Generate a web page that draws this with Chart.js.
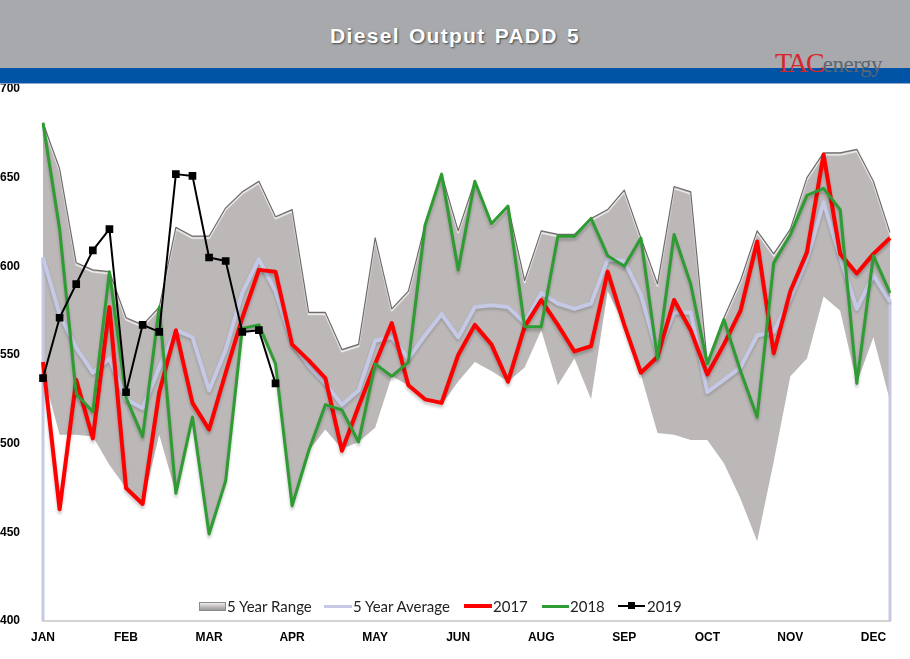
<!DOCTYPE html>
<html lang="en">
<head>
<meta charset="UTF-8" />
<title>Diesel Output PADD 5</title>
<script src="https://cdn.jsdelivr.net/npm/chart.js@4"></script>
<style>
  body{margin:0;width:910px;height:659px;position:relative;overflow:hidden;background:#fff;font-family:Arial,"Liberation Sans",sans-serif;}
  #head{position:absolute;left:0;top:0;width:910px;height:68px;background:#a7a9ac;}
  #blue{position:absolute;left:0;top:68px;width:910px;height:15px;background:#0054a6;border-bottom:1px solid #8ea6c8;}
  #title{position:absolute;left:0;top:24px;width:910px;text-align:center;color:#fff;font:bold 21px Arial,"Liberation Sans",sans-serif;letter-spacing:1.3px;word-spacing:2px;text-shadow:1px 1px 2px rgba(0,0,0,.6);}
  #logo{position:absolute;left:775px;top:49px;white-space:nowrap;font-family:"Liberation Serif","DejaVu Serif",serif;line-height:1;}
  #logo .tac{color:#d8262c;font-size:28px;letter-spacing:-2px;}
  #logo .en{color:#5d6670;font-size:23px;letter-spacing:-0.5px;}
  canvas{position:absolute;left:0;top:0;}
  .lg{position:absolute;top:597px;font:15px Lato,"Open Sans",sans-serif;color:#222;line-height:18px;white-space:nowrap;}
  .ic{position:absolute;}
</style>
</head>
<body>
  <canvas id="c" width="910" height="659"></canvas>
  <div id="head"></div>
  <div id="blue"></div>
  <div id="title">Diesel Output PADD 5</div>
  <div id="logo"><span class="tac">TAC</span><span class="en">energy</span></div>

  <!-- legend -->
  <div class="ic" style="left:199px;top:602px;width:25px;height:7px;background:linear-gradient(#eee,#b9b6b5 60%,#9c9999);border:1px solid #8d8a8a;"></div>
  <div class="lg" style="left:227px;">5 Year Range</div>
  <div class="ic" style="left:324px;top:605px;width:28px;height:3px;background:#c5c9e6;"></div>
  <div class="lg" style="left:353px;">5 Year Average</div>
  <div class="ic" style="left:464px;top:604px;width:28px;height:4px;background:#ff0000;"></div>
  <div class="lg" style="left:493px;">2017</div>
  <div class="ic" style="left:542px;top:605px;width:27px;height:3px;background:#2e9b33;"></div>
  <div class="lg" style="left:570px;">2018</div>
  <div class="ic" style="left:618px;top:605px;width:27px;height:2px;background:#000;"></div>
  <div class="ic" style="left:628px;top:602px;width:7px;height:7px;background:#000;"></div>
  <div class="lg" style="left:647px;">2019</div>

<script>
  // weekly data, 52 weeks; month label every 5th week (as in the original sheet)
  const months = ['JAN','FEB','MAR','APR','MAY','JUN','AUG','SEP','OCT','NOV','DEC'];
  const weekLabels = Array.from({length:52}, (_, i) => i % 5 === 0 ? months[i/5] : '');

  const rangeHigh = [681,655,602,598,597,571,567,577,622,617,617,633,642,648,628,632,574,574,553,556,
                     616,576,586,623,652,620,648,624,634,592,620,618,618,627,632,643,616,590,645,642,
                     545,571,592,620,607,621,650,664,664,666,648,619];
  const rangeLow  = [540,505,505,504,488,475,466,505,472,515,449,479,563,565,545,465,496,508,497,501,
                     509,538,533,524,522,535,546,541,535,543,564,533,548,525,586,567,539,506,505,502,
                     502,489,469,445,490,538,548,583,575,534,560,524];
  const avg5yr    = [605,573,554,540,548,525,520,543,564,560,530,553,585,604,586,557,544,534,522,530,
                     558,560,548,561,573,560,577,578,577,568,585,579,576,579,604,603,584,551,574,574,
                     529,536,543,561,563,582,604,636,605,576,595,580];
  const y2017     = [546,463,536,503,577,475,466,529,564,523,508,540,571,598,597,556,547,537,496,521,
                     545,568,533,525,523,550,567,556,535,566,581,567,552,555,597,567,540,549,581,564,
                     539,556,575,614,551,586,608,663,607,596,607,616];
  const y2018     = [681,621,528,518,597,526,504,577,472,515,449,479,565,567,545,465,496,522,519,501,
                     545,538,546,623,652,598,648,624,634,566,566,617,617,627,606,600,616,548,618,590,
                     545,570,541,515,602,618,640,644,632,534,606,585];
  const y2019     = [537,571,590,609,621,529,567,563,652,651,605,603,563,564,534];

  const Y_MIN = 400, Y_MAX = 700;

  // soft shadows / bevel on lines, and the vertical end strokes of the average area
  const lookPlugin = {
    id: 'look',
    beforeDatasetDraw(chart, args) {
      const ds = chart.data.datasets[args.index];
      const ctx = chart.ctx;
      ctx.save();
      if (ds.edges) {
        const x = chart.scales.x, y = chart.scales.y;
        const last = ds.data.length - 1;
        ctx.strokeStyle = ds.borderColor;
        ctx.lineWidth = 3;
        ctx.beginPath();
        ctx.moveTo(x.getPixelForValue(0), y.getPixelForValue(ds.data[0]));
        ctx.lineTo(x.getPixelForValue(0), y.getPixelForValue(Y_MIN));
        ctx.moveTo(x.getPixelForValue(last), y.getPixelForValue(ds.data[last]));
        ctx.lineTo(x.getPixelForValue(last), y.getPixelForValue(Y_MIN));
        ctx.stroke();
      }
      if (ds.shadow) {
        ctx.shadowColor = ds.shadow;
        ctx.shadowBlur = ds.shadowBlur || 3;
        ctx.shadowOffsetX = 0;
        ctx.shadowOffsetY = ds.shadowY || 3;
      }
    },
    afterDatasetDraw(chart) { chart.ctx.restore(); }
  };

  new Chart(document.getElementById('c'), {
    type: 'line',
    data: {
      labels: weekLabels,
      datasets: [
        {label:'5 Year Range', data:rangeHigh, fill:'+1', backgroundColor:'#bcb8b7',
         borderColor:'#6f6b6b', borderWidth:1.2, pointRadius:0, order:10,
         shadow:'rgba(255,255,255,0.95)', shadowY:2, shadowBlur:1},
        {label:'', data:rangeLow, fill:false, borderWidth:0, borderColor:'rgba(0,0,0,0)', pointRadius:0, order:11},
        {label:'5 Year Average', data:avg5yr, fill:false, borderColor:'#c5c9e6', borderWidth:4,
         pointRadius:0, order:4, edges:true, shadow:'rgba(0,0,0,0.18)', shadowY:2},
        {label:'2017', data:y2017, fill:false, borderColor:'#ff0000', borderWidth:4, pointRadius:0, order:3,
         shadow:'rgba(0,0,0,0.22)', shadowY:3},
        {label:'2018', data:y2018, fill:false, borderColor:'#2e9b33', borderWidth:3, pointRadius:0, order:2,
         shadow:'rgba(0,0,0,0.22)', shadowY:3},
        {label:'2019', data:y2019, fill:false, borderColor:'#000', borderWidth:2, pointStyle:'rect',
         pointRadius:4, pointBackgroundColor:'#000', pointBorderColor:'#000', order:1}
      ]
    },
    options: {
      responsive:false, animation:false, devicePixelRatio:1,
      layout:{padding:{top:89, right:20, left:0, bottom:0}},
      plugins:{legend:{display:false}, tooltip:{enabled:false}},
      elements:{line:{tension:0, borderJoinStyle:'round'}},
      scales:{
        x:{
          offset:false,
          grid:{display:false, drawTicks:false},
          border:{display:true, color:'#d4d4d4', width:2},
          ticks:{autoSkip:false, maxRotation:0, minRotation:0, padding:9,
                 color:'#000', font:{family:'Arial', weight:'bold', size:12}},
          afterFit(s){ s.height = 38; }
        },
        y:{
          min:Y_MIN, max:Y_MAX,
          grid:{display:false, drawTicks:false},
          border:{display:false},
          ticks:{stepSize:50, crossAlign:'far', padding:0, color:'#000',
                 font:{family:'Arial', weight:'bold', size:12}},
          afterFit(s){ s.width = 43; }
        }
      }
    },
    plugins:[lookPlugin]
  });
</script>
</body>
</html>
